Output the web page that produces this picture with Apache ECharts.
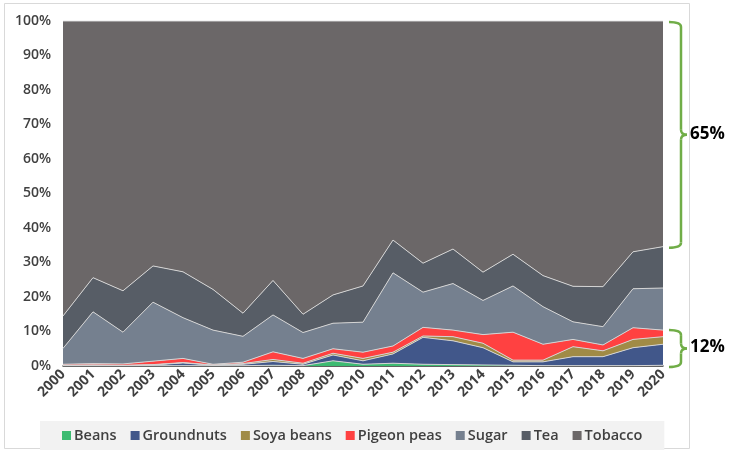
<!DOCTYPE html>
<html>
<head>
<meta charset="utf-8">
<script src="https://cdn.jsdelivr.net/npm/echarts@6/dist/echarts.min.js"></script>
<style>
  html, body { margin: 0; padding: 0; background: #fff; }
  #main { width: 733px; height: 451px; }
</style>
</head>
<body>
<div id="main"></div>
<script>
// share of each crop per year (%)
var years = ['2000', '2001', '2002', '2003', '2004', '2005', '2006', '2007', '2008', '2009', '2010',
    '2011', '2012', '2013', '2014', '2015', '2016', '2017', '2018', '2019', '2020'];
var beans = [0.1, 0.1, 0.1, 0.1, 0.1, 0.1, 0.1, 0.2, 0.1, 1.5, 0.5, 0.8, 0.5, 0.4, 0.3, 0.2, 0.1, 0.1, 0.1, 0.1, 0.2];
var groundnuts = [0.05, 0.15, 0.05, 0.2, 0.8, 0.1, 0.4, 1.1, 0.4, 1.7, 1.0, 2.7, 7.8, 6.9, 5.0, 1.0, 1.1, 2.6, 2.6, 5.2, 6.1];
var soyaBeans = [0.05, 0.05, 0.05, 0.1, 0.1, 0.1, 0.2, 0.6, 0.3, 0.5, 0.7, 0.5, 0.4, 1.2, 1.3, 0.5, 0.5, 2.9, 1.7, 2.4, 2.2];
var pigeonPeas = [0.3, 0.4, 0.4, 1.0, 1.2, 0.2, 0.4, 2.2, 1.4, 1.3, 1.8, 1.8, 2.5, 1.9, 2.5, 8.1, 4.6, 2.1, 1.7, 3.4, 1.9];
var sugar = [4.6, 15.0, 9.2, 17.1, 11.8, 9.9, 7.5, 10.7, 7.5, 7.4, 8.7, 21.2, 10.2, 13.5, 9.9, 13.4, 10.9, 5.1, 5.3, 11.3, 12.2];
var tea = [9.4, 9.9, 12.0, 10.5, 13.3, 11.8, 6.7, 10.0, 5.3, 8.2, 10.5, 9.5, 8.4, 10.0, 8.2, 9.2, 9.0, 10.3, 11.6, 10.7, 12.0];
var tobacco = [85.5, 74.4, 78.2, 71.0, 72.7, 77.8, 84.7, 75.2, 85.0, 79.4, 76.8, 63.5, 70.2, 66.1, 72.8, 67.6, 73.8, 76.9, 77.0, 66.9, 65.4];

var seriesNames = ['Beans', 'Groundnuts', 'Soya beans', 'Pigeon peas', 'Sugar', 'Tea', 'Tobacco'];
var seriesData = [beans, groundnuts, soyaBeans, pigeonPeas, sugar, tea, tobacco];
var seriesColors = ['#3dbb72', '#41578a', '#a08b46', '#ff4141', '#75808f', '#575d66', '#6b6768'];

// annotation braces: [from %, to %, label]
var brackets = [[100, 34.6, '65%'], [10.7, 0, '12%']];

var font = '"Open Sans", "Liberation Sans", sans-serif';

var chart = echarts.init(document.getElementById('main'));

var series = [];
for (var i = 0; i < seriesNames.length; i++) {
    series.push({
        name: seriesNames[i],
        type: 'line',
        stack: 'total',
        data: seriesData[i],
        showSymbol: false,
        symbol: 'none',
        color: seriesColors[i],
        lineStyle: { width: 1, color: '#d4d4d4' },
        areaStyle: { color: seriesColors[i], opacity: 1 }
    });
}

var option = {
    animation: false,
    backgroundColor: '#fff',
    grid: { left: 63, right: 70, top: 21, bottom: 85 },
    legend: {
        data: seriesNames.map(function (n, k) {
            return { name: n, itemStyle: { color: seriesColors[k] } };
        }),
        bottom: 1,
        left: 40,
        icon: 'rect',
        itemWidth: 9,
        itemHeight: 9,
        itemGap: 14,
        backgroundColor: '#f2f2f2',
        padding: [7, 22],
        textStyle: { fontFamily: font, fontSize: 14.5, fontWeight: 600, color: '#404040', padding: [0, 0, 0, -2] }
    },
    xAxis: {
        type: 'category',
        data: years,
        boundaryGap: false,
        axisTick: { show: false },
        axisLine: { lineStyle: { color: '#404040', width: 1.5 } },
        axisLabel: {
            rotate: 45,
            interval: 0,
            margin: 6,
            fontFamily: font,
            fontSize: 14,
            fontWeight: 'bold',
            color: '#404040'
        }
    },
    yAxis: {
        type: 'value',
        min: 0,
        max: 100,
        interval: 10,
        z: 3,
        axisLabel: {
            formatter: '{value}%',
            fontFamily: font,
            fontSize: 14,
            fontWeight: 600,
            color: '#404040',
            margin: 12
        },
        splitLine: { lineStyle: { color: 'rgba(0,0,0,0.13)', width: 1 } }
    },
    series: series
};

chart.setOption(option);

// green braces on the right, built from lines and curves
function brace(x0, y1, y2) {
    var xv = x0 + 12, xt = x0 + 18, r = 5;
    var ym = (y1 + y2) / 2;
    var st = { stroke: '#70ad47', lineWidth: 2.5, fill: 'none' };
    var parts = [
        { type: 'bezierCurve', shape: { x1: x0, y1: y1, cpx1: xv, cpy1: y1, x2: xv, y2: y1 + r } },
        { type: 'line', shape: { x1: xv, y1: y1 + r, x2: xv, y2: ym - r } },
        { type: 'bezierCurve', shape: { x1: xv, y1: ym - r, cpx1: xv, cpy1: ym, x2: xt, y2: ym } },
        { type: 'bezierCurve', shape: { x1: xt, y1: ym, cpx1: xv, cpy1: ym, x2: xv, y2: ym + r } },
        { type: 'line', shape: { x1: xv, y1: ym + r, x2: xv, y2: y2 - r } },
        { type: 'bezierCurve', shape: { x1: xv, y1: y2 - r, cpx1: xv, cpy1: y2, x2: x0, y2: y2 } }
    ];
    parts.forEach(function (p) { p.style = st; p.z = 10; });
    return parts;
}

var graphics = [{
    type: 'rect',
    shape: { x: 4.5, y: 3.5, width: 685, height: 445 },
    style: { fill: 'none', stroke: '#d9d9d9', lineWidth: 1 },
    z: -1
}];
var xRight = chart.convertToPixel({ xAxisIndex: 0 }, years[years.length - 1]);
for (var b = 0; b < brackets.length; b++) {
    var y1 = chart.convertToPixel({ yAxisIndex: 0 }, brackets[b][0]) + 1;
    var y2 = chart.convertToPixel({ yAxisIndex: 0 }, brackets[b][1]) + 1;
    var x0 = xRight + 6;
    graphics = graphics.concat(brace(x0, y1, y2));
    graphics.push({
        type: 'text',
        x: x0 + 21,
        y: (y1 + y2) / 2 - 1,
        style: {
            text: brackets[b][2],
            font: 'bold 17px ' + font,
            fill: '#000',
            verticalAlign: 'middle'
        },
        z: 10
    });
}
chart.setOption({ graphic: graphics });

window.addEventListener('resize', function () {
    chart.resize();
});
</script>
</body>
</html>
